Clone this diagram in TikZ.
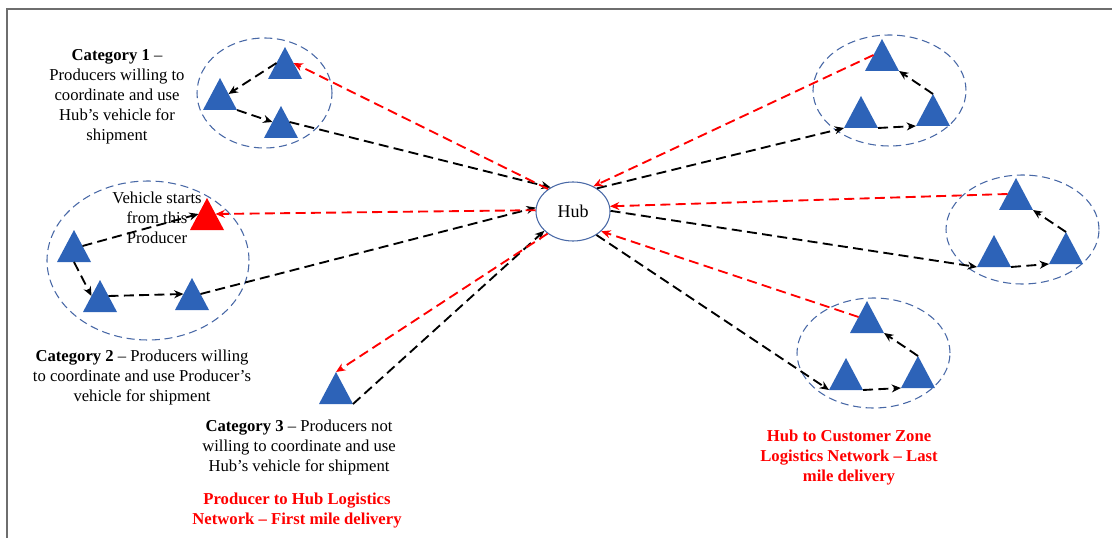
\documentclass[tikz,border=0pt]{standalone}
\usepackage{fontspec}
\setmainfont{Liberation Serif}
\usetikzlibrary{arrows.meta,shapes.geometric}
\definecolor{triblue}{RGB}{45,99,184}
\definecolor{zoneblue}{RGB}{72,104,166}
\definecolor{framegray}{RGB}{110,110,110}
\newcommand\prodtri[4]{%
  \coordinate (#1) at (#2,#3);
  \coordinate (#1-l) at (#2-17,#3+32);
  \coordinate (#1-r) at (#2+17,#3+32);
  \coordinate (#1-ls) at (#2-8.5,#3+16);
  \coordinate (#1-rs) at (#2+8.5,#3+16);
  \coordinate (#1-b) at (#2,#3+32);
  \fill[#4] (#1) -- (#1-l) -- (#1-r) -- cycle;
}
\tikzset{
  zone/.style={ellipse, draw=zoneblue, line width=0.8pt, dash pattern=on 6pt off 3.5pt, inner sep=0pt},
  hubnode/.style={ellipse, draw=zoneblue, line width=0.8pt, inner sep=0pt, minimum width=55.5pt, minimum height=44.25pt, font=\fontsize{13.5pt}{16pt}\selectfont},
  blk/.style={draw=black, line width=1.4pt, dash pattern=on 7.5pt off 4pt, -{Stealth[length=7pt,width=6pt]}},
  redl/.style={draw=red, line width=1.4pt, dash pattern=on 7.5pt off 4pt, -{Stealth[length=7pt,width=6pt]}},
  txt/.style={align=center, inner sep=0pt, font=\fontsize{12.5pt}{15pt}\selectfont},
  redtxt/.style={align=center, inner sep=0pt, text=red, font=\fontsize{12.5pt}{15pt}\selectfont\bfseries},
}
\begin{document}
\begin{tikzpicture}[x=0.75pt, y=-0.75pt]
\useasboundingbox (0,0) rectangle (1112,538);
% frame
\draw[framegray, line width=1.1pt] (7,538) -- (7,9) -- (1112,9);

% zones
\node[zone, minimum width=101.25pt, minimum height=82.5pt] (z1) at (264.5,93) {};
\node[zone, minimum width=151.5pt, minimum height=119.25pt] (z2) at (148,260.5) {};
\node[zone, minimum width=114.75pt, minimum height=83.25pt] (zr1) at (889.5,90.5) {};
\node[zone, minimum width=114.75pt, minimum height=81.75pt] (zr2) at (1022.5,229.5) {};
\node[zone, minimum width=114.75pt, minimum height=82.5pt] (zr3) at (873.5,353) {};

% hub
\node[hubnode] (hub) at (573,211.5) {Hub};

% producers
\prodtri{c1a}{285}{47}{triblue}
\prodtri{c1b}{220}{78}{triblue}
\prodtri{c1c}{281}{106}{triblue}
\prodtri{c2s}{207}{198}{red}
\prodtri{c2l}{74}{230}{triblue}
\prodtri{c2m}{100}{280}{triblue}
\prodtri{c2r}{192}{278}{triblue}
\prodtri{c3}{336}{372}{triblue}
% customer zones
\prodtri{r1a}{882}{39}{triblue}
\prodtri{r1b}{861}{96}{triblue}
\prodtri{r1c}{933}{94}{triblue}
\prodtri{r2a}{1016}{178}{triblue}
\prodtri{r2b}{994}{235}{triblue}
\prodtri{r2c}{1066}{232}{triblue}
\prodtri{r3a}{867}{301}{triblue}
\prodtri{r3b}{846}{358}{triblue}
\prodtri{r3c}{918}{356}{triblue}

% category 1
\draw[blk] (c1a-ls) -- (c1b-rs);
\draw[blk] (c1b-r) -- (c1c-ls);
\draw[blk] (c1c-rs) -- (hub.133);
\draw[redl] (hub.138) -- (c1a-rs);
% category 2
\draw[blk] (c2l-rs) -- (c2s-ls);
\draw[blk] (c2l-b) -- (c2m-ls);
\draw[blk] (c2m-rs) -- (c2r-ls);
\draw[blk] (c2r-rs) -- (hub.174);
\draw[redl] (hub.178) -- (c2s-rs);
% category 3
\draw[blk] (c3-r) -- (hub.214);
\draw[redl] (hub.221) -- (c3);
% customer zone 1
\draw[blk] (hub.44) -- (r1b-l);
\draw[blk] (r1b-r) -- (r1c-l);
\draw[blk] (r1c) -- (r1a-r);
\draw[redl] (r1a-ls) -- (hub.51);
% customer zone 2
\draw[blk] (hub.1) -- (r2b-l);
\draw[blk] (r2b-r) -- (r2c-l);
\draw[blk] (r2c) -- (r2a-r);
\draw[redl] (r2a-ls) -- (hub.8);
% customer zone 3
\draw[blk] (hub.-45) -- (r3b-l);
\draw[blk] (r3b-r) -- (r3c-l);
\draw[blk] (r3c) -- (r3a-r);
\draw[redl] (r3a-ls) -- (hub.-35);

% texts
\node[txt] (t1) at (117,97) {\textbf{Category 1} –\\Producers willing to\\coordinate and use\\Hub’s vehicle for\\shipment};
\node[txt] (tv) at (157,218) {Vehicle starts\\from this\\Producer};
\node[txt] (t2) at (142,377) {\textbf{Category 2} – Producers willing\\to coordinate and use Producer’s\\vehicle for shipment};
\node[txt] (t3) at (299,447) {\textbf{Category 3} – Producers not\\willing to coordinate and use\\Hub’s vehicle for shipment};
\node[redtxt] (tl) at (297,511) {Producer to Hub Logistics\\Network – First mile delivery};
\node[redtxt] (tr) at (849,458) {Hub to Customer Zone\\Logistics Network – Last\\mile delivery};
\end{tikzpicture}
\end{document}
